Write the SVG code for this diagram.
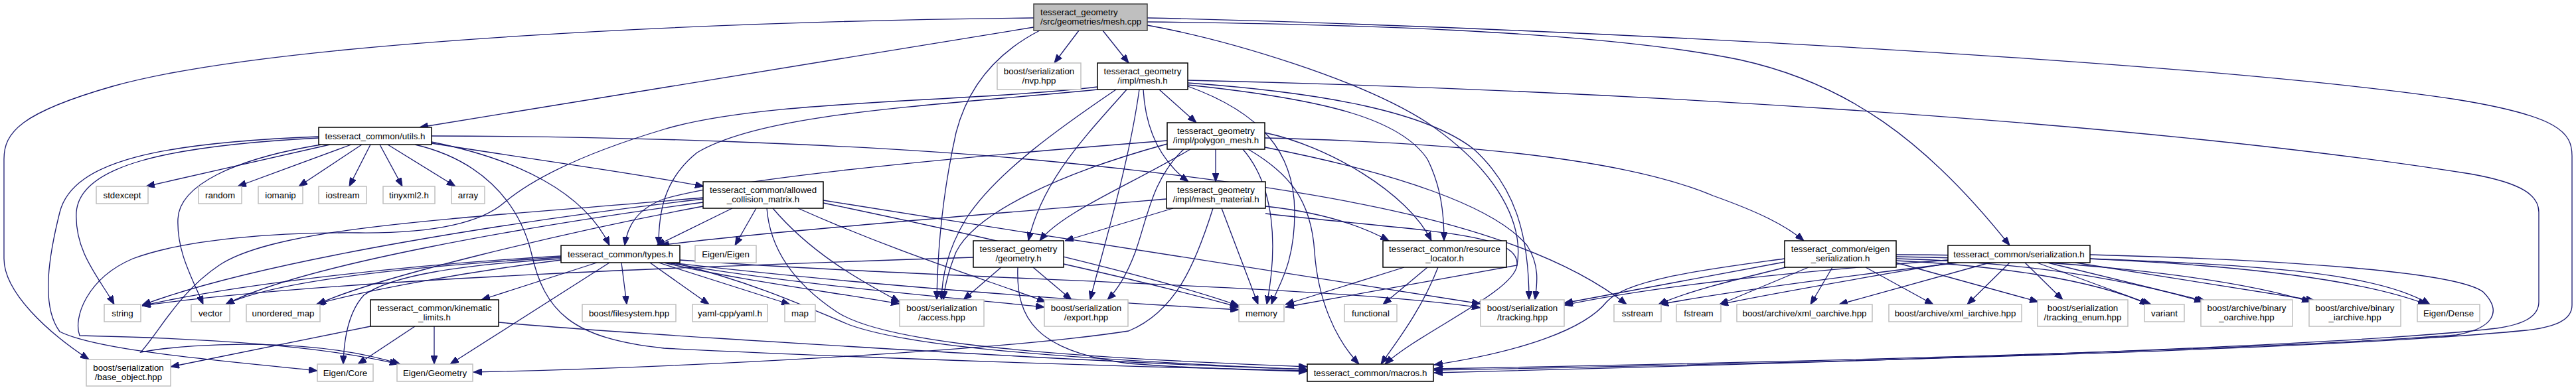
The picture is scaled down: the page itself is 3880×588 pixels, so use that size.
<svg xmlns="http://www.w3.org/2000/svg" width="3880" height="588" viewBox="0 0 3880 588">
<style>
text{font-family:"Liberation Sans",Arial,Helvetica,sans-serif;font-size:13.3px;fill:#000;text-anchor:middle}
.d rect{fill:#fff;stroke:#000;stroke-width:1.5}
.x rect{fill:#fff;stroke:#bfbfbf;stroke-width:1.5}
.r rect{fill:#bfbfbf;stroke:#404040;stroke-width:1.5}
.r text{text-anchor:start}
#edges path{fill:none;stroke:#191970;stroke-width:1.3;marker-end:url(#a)}
</style>
<defs>
<marker id="a" markerWidth="13" markerHeight="10" refX="13" refY="5" orient="auto" markerUnits="userSpaceOnUse"><path d="M0,0 L13,5 L0,10 z" fill="#191970" stroke="#191970" stroke-width="1"/></marker>
</defs>
<rect width="3880" height="588" fill="#fff"/>
<g id="edges">
<path d="M1557,41 L632,192"/>
<path d="M1557,27 C1100,32 420,60 170,130 C30,170 6,200 6,240 L6,390 C6,440 70,500 134,542"/>
<path d="M1625,46 L1588,95"/>
<path d="M1661,46 L1700,95"/>
<path d="M1566,46 C1500,80 1458,130 1440,200 C1420,290 1412,380 1411,452"/>
<path d="M1728,33 C2000,36 2400,45 2620,90 C2780,125 2900,210 3027,370"/>
<path d="M1728,27 C2300,40 3300,90 3700,150 C3855,175 3874,200 3874,235 L3874,460 C3874,482 3850,493 3805,498 C3500,528 2700,548 2160,558"/>
<path d="M1728,38 C1850,60 2050,120 2150,185 C2260,260 2295,340 2285,400 L1936,463"/>
<path d="M1746,135 L1802,185"/>
<path d="M1722,135 C1725,190 1745,240 1790,274"/>
<path d="M1697,135 C1640,200 1570,270 1549,363"/>
<path d="M1681,135 C1600,190 1500,260 1455,330 C1425,380 1419,420 1418,452"/>
<path d="M1716,135 C1700,250 1660,380 1642,452"/>
<path d="M1789,130 C1900,170 1950,230 1950,320 C1950,400 1925,430 1915,459"/>
<path d="M1789,121 C2400,135 3200,180 3720,262 C3800,276 3824,295 3824,320 L3824,455 C3824,480 3795,490 3760,495 C3500,525 2700,548 2160,562"/>
<path d="M1789,125 C2000,140 2150,170 2220,225 C2280,280 2303,350 2303,452"/>
<path d="M1789,128 C2000,150 2110,180 2150,240 C2170,280 2175,320 2175,363"/>
<path d="M1653,135 C1400,160 1150,170 1050,230 C1000,270 992,320 992,370"/>
<path d="M1653,131 C1450,155 1150,150 1000,195 C850,240 790,280 760,305 C720,340 640,352 540,351 C420,350 280,360 200,390 C130,420 110,480 120,506 C300,510 480,520 600,549"/>
<path d="M1831,225 L1831,274"/>
<path d="M1793,225 C1700,280 1600,320 1566,363"/>
<path d="M1758,217 C1600,260 1470,320 1440,380 C1428,410 1423,430 1421,452"/>
<path d="M1783,225 C1735,270 1728,330 1710,380 C1695,420 1680,440 1668,452"/>
<path d="M1872,225 C1920,280 1925,370 1908,459"/>
<path d="M1880,225 C1940,260 1975,300 1980,380 C1985,450 2010,510 2047,549"/>
<path d="M1905,208 C2200,215 2450,240 2580,295 C2650,320 2690,340 2717,363"/>
<path d="M1905,200 C2000,220 2120,290 2156,363"/>
<path d="M1905,222 C2100,260 2250,310 2300,370 C2320,400 2315,430 2312,452"/>
<path d="M1758,212 C1400,240 1100,270 1000,300 C960,315 945,340 941,370"/>
<path d="M1767,314 L1604,363"/>
<path d="M1840,314 L1895,459"/>
<path d="M1906,311 C1990,320 2050,340 2092,363"/>
<path d="M1906,322 C2150,350 2290,350 2285,400 C2280,440 2140,500 2086,549"/>
<path d="M1757,300 C1400,330 1100,355 995,370"/>
<path d="M1827,314 C1800,400 1770,470 1700,499 C1500,530 1000,555 713,561"/>
<path d="M1508,403 L1451,452"/>
<path d="M1556,403 L1614,452"/>
<path d="M1602,398 C1700,420 1800,445 1866,463"/>
<path d="M1533,403 C1530,480 1560,530 1700,548 C1800,556 1900,558 1969,560"/>
<path d="M1466,388 C1100,400 500,420 214,461"/>
<path d="M1103,314 L989,370"/>
<path d="M1139,314 L1107,370"/>
<path d="M1164,314 C1220,380 1290,420 1355,455"/>
<path d="M1202,314 C1350,380 1480,420 1575,455"/>
<path d="M1240,306 C1500,360 1750,420 1866,461"/>
<path d="M1240,302 C1600,360 2000,420 2230,458"/>
<path d="M1155,314 C1160,380 1200,430 1260,470 C1320,510 1500,535 1969,553"/>
<path d="M1059,300 C800,330 400,390 214,460"/>
<path d="M1059,305 C800,340 450,400 340,459"/>
<path d="M1059,311 C850,350 560,420 478,459"/>
<path d="M1059,298 C700,330 420,340 330,400 C270,440 240,500 212,531 C300,515 480,510 603,549"/>
<path d="M845,386 C600,400 350,430 214,461"/>
<path d="M845,388 C650,400 420,420 340,459"/>
<path d="M845,392 C700,410 540,440 476,459"/>
<path d="M899,396 L725,452"/>
<path d="M918,396 L678,549"/>
<path d="M845,390 C690,400 590,415 548,445 C525,470 518,510 517,549"/>
<path d="M936,396 L944,459"/>
<path d="M979,396 L1068,459"/>
<path d="M992,396 L1190,459"/>
<path d="M1000,396 C1100,420 1250,440 1355,458"/>
<path d="M1005,396 C1200,430 1450,450 1573,463"/>
<path d="M1010,396 C1300,430 1650,455 1866,467"/>
<path d="M1024,392 C1400,420 2000,430 2230,464"/>
<path d="M1015,396 C1150,430 1230,470 1280,490 C1350,515 1500,537 1969,557"/>
<path d="M497,218 L220,281"/>
<path d="M529,218 L358,281"/>
<path d="M545,218 L450,281"/>
<path d="M558,218 L526,281"/>
<path d="M572,218 L606,281"/>
<path d="M584,218 L686,281"/>
<path d="M480,208 C250,220 120,250 115,320 C112,380 150,420 172,459"/>
<path d="M484,218 C350,240 270,280 268,330 C266,380 290,420 306,459"/>
<path d="M480,206 C250,215 110,240 90,320 C75,380 60,460 90,500 C150,530 350,545 478,559"/>
<path d="M650,214 C780,240 880,290 918,370"/>
<path d="M650,216 C800,240 950,260 1060,281"/>
<path d="M650,205 C900,205 1300,215 1600,245 C2000,285 2300,340 2450,459"/>
<path d="M625,218 C720,240 780,300 800,380 C820,470 860,510 1000,525 C1300,540 1700,553 1969,559"/>
<path d="M558,492 L257,553"/>
<path d="M625,492 L539,549"/>
<path d="M654,492 L654,549"/>
<path d="M751,486 C900,500 1600,545 1969,557"/>
<path d="M2115,403 L1936,459"/>
<path d="M2150,403 L2083,459"/>
<path d="M2166,403 C2140,470 2100,520 2080,549"/>
<path d="M2688,390 C2580,405 2450,420 2420,455 C2380,505 2260,535 2160,550"/>
<path d="M2688,395 C2550,420 2450,440 2356,457"/>
<path d="M2690,403 C2600,425 2540,440 2498,459"/>
<path d="M2724,403 L2590,459"/>
<path d="M2760,403 L2727,459"/>
<path d="M2810,403 L2912,459"/>
<path d="M2856,396 L3070,455"/>
<path d="M2856,393 C3000,400 3150,420 3236,459"/>
<path d="M2856,390 C3050,395 3200,420 3318,455"/>
<path d="M2856,387 C3100,390 3350,415 3480,455"/>
<path d="M2856,384 C3150,385 3500,400 3655,459"/>
<path d="M3027,396 L2963,459"/>
<path d="M2997,396 L2770,459"/>
<path d="M3050,396 L3107,452"/>
<path d="M3068,396 L3240,459"/>
<path d="M3084,396 L3322,454"/>
<path d="M3126,396 L3486,453"/>
<path d="M3148,390 C3400,400 3580,410 3660,459"/>
<path d="M2950,396 C2750,420 2600,440 2500,459"/>
<path d="M2940,396 C2800,420 2680,440 2590,459"/>
<path d="M2934,392 C2700,410 2500,430 2356,460"/>
<path d="M3148,384 C3450,392 3700,410 3740,440 C3770,470 3755,495 3700,505 C3400,528 2700,546 2160,556"/>
</g>
<g id="n0" class="r"><rect x="1557" y="6" width="171" height="40"/><text x="1567" y="22.5">tesseract_geometry</text><text x="1567" y="37">/src/geometries/mesh.cpp</text></g>
<g id="n1" class="x"><rect x="1502" y="95" width="126" height="40"/><text x="1565" y="111.5">boost/serialization</text><text x="1565" y="126">/nvp.hpp</text></g>
<g id="n2" class="d"><rect x="1653" y="95" width="136" height="40"/><text x="1721" y="111.5">tesseract_geometry</text><text x="1721" y="126">/impl/mesh.h</text></g>
<g id="n3" class="d"><rect x="480" y="192" width="170" height="26"/><text x="565" y="209.5">tesseract_common/utils.h</text></g>
<g id="n4" class="d"><rect x="1758" y="185" width="147" height="40"/><text x="1831.5" y="201.5">tesseract_geometry</text><text x="1831.5" y="216">/impl/polygon_mesh.h</text></g>
<g id="n5" class="d"><rect x="1059" y="274" width="181" height="40"/><text x="1149.5" y="290.5">tesseract_common/allowed</text><text x="1149.5" y="305">_collision_matrix.h</text></g>
<g id="n6" class="d"><rect x="1757" y="274" width="149" height="40"/><text x="1831.5" y="290.5">tesseract_geometry</text><text x="1831.5" y="305">/impl/mesh_material.h</text></g>
<g id="n7" class="x"><rect x="145" y="281" width="78" height="26"/><text x="184" y="298.5">stdexcept</text></g>
<g id="n8" class="x"><rect x="299" y="281" width="65" height="26"/><text x="331.5" y="298.5">random</text></g>
<g id="n9" class="x"><rect x="389" y="281" width="67" height="26"/><text x="422.5" y="298.5">iomanip</text></g>
<g id="n10" class="x"><rect x="480" y="281" width="72" height="26"/><text x="516" y="298.5">iostream</text></g>
<g id="n11" class="x"><rect x="577" y="281" width="78" height="26"/><text x="616" y="298.5">tinyxml2.h</text></g>
<g id="n12" class="x"><rect x="680" y="281" width="50" height="26"/><text x="705" y="298.5">array</text></g>
<g id="n13" class="d"><rect x="845" y="370" width="179" height="26"/><text x="934.5" y="387.5">tesseract_common/types.h</text></g>
<g id="n14" class="x"><rect x="1047" y="370" width="92" height="26"/><text x="1093" y="387.5">Eigen/Eigen</text></g>
<g id="n15" class="d"><rect x="1466" y="363" width="136" height="40"/><text x="1534" y="379.5">tesseract_geometry</text><text x="1534" y="394">/geometry.h</text></g>
<g id="n16" class="d"><rect x="2083" y="363" width="186" height="40"/><text x="2176" y="379.5">tesseract_common/resource</text><text x="2176" y="394">_locator.h</text></g>
<g id="n17" class="d"><rect x="2688" y="363" width="168" height="40"/><text x="2772" y="379.5">tesseract_common/eigen</text><text x="2772" y="394">_serialization.h</text></g>
<g id="n18" class="d"><rect x="2934" y="370" width="214" height="26"/><text x="3041" y="387.5">tesseract_common/serialization.h</text></g>
<g id="n19" class="x"><rect x="157" y="459" width="55" height="26"/><text x="184.5" y="476.5">string</text></g>
<g id="n20" class="x"><rect x="288" y="459" width="58" height="26"/><text x="317" y="476.5">vector</text></g>
<g id="n21" class="x"><rect x="371" y="459" width="111" height="26"/><text x="426.5" y="476.5">unordered_map</text></g>
<g id="n22" class="d"><rect x="558" y="452" width="193" height="40"/><text x="654.5" y="468.5">tesseract_common/kinematic</text><text x="654.5" y="483">_limits.h</text></g>
<g id="n23" class="x"><rect x="877" y="459" width="141" height="26"/><text x="947.5" y="476.5">boost/filesystem.hpp</text></g>
<g id="n24" class="x"><rect x="1043" y="459" width="113" height="26"/><text x="1099.5" y="476.5">yaml-cpp/yaml.h</text></g>
<g id="n25" class="x"><rect x="1182" y="459" width="46" height="26"/><text x="1205" y="476.5">map</text></g>
<g id="n26" class="x"><rect x="1355" y="452" width="127" height="40"/><text x="1418.5" y="468.5">boost/serialization</text><text x="1418.5" y="483">/access.hpp</text></g>
<g id="n27" class="x"><rect x="1573" y="452" width="126" height="40"/><text x="1636" y="468.5">boost/serialization</text><text x="1636" y="483">/export.hpp</text></g>
<g id="n28" class="x"><rect x="1866" y="459" width="68" height="26"/><text x="1900" y="476.5">memory</text></g>
<g id="n29" class="x"><rect x="2025" y="459" width="79" height="26"/><text x="2064.5" y="476.5">functional</text></g>
<g id="n30" class="x"><rect x="2230" y="452" width="126" height="40"/><text x="2293" y="468.5">boost/serialization</text><text x="2293" y="483">/tracking.hpp</text></g>
<g id="n31" class="x"><rect x="2431" y="459" width="71" height="26"/><text x="2466.5" y="476.5">sstream</text></g>
<g id="n32" class="x"><rect x="2525" y="459" width="67" height="26"/><text x="2558.5" y="476.5">fstream</text></g>
<g id="n33" class="x"><rect x="2616" y="459" width="204" height="26"/><text x="2718" y="476.5">boost/archive/xml_oarchive.hpp</text></g>
<g id="n34" class="x"><rect x="2845" y="459" width="200" height="26"/><text x="2945" y="476.5">boost/archive/xml_iarchive.hpp</text></g>
<g id="n35" class="x"><rect x="3069" y="452" width="136" height="40"/><text x="3137" y="468.5">boost/serialization</text><text x="3137" y="483">/tracking_enum.hpp</text></g>
<g id="n36" class="x"><rect x="3230" y="459" width="60" height="26"/><text x="3260" y="476.5">variant</text></g>
<g id="n37" class="x"><rect x="3315" y="452" width="138" height="40"/><text x="3384" y="468.5">boost/archive/binary</text><text x="3384" y="483">_oarchive.hpp</text></g>
<g id="n38" class="x"><rect x="3478" y="452" width="138" height="40"/><text x="3547" y="468.5">boost/archive/binary</text><text x="3547" y="483">_iarchive.hpp</text></g>
<g id="n39" class="x"><rect x="3641" y="459" width="94" height="26"/><text x="3688" y="476.5">Eigen/Dense</text></g>
<g id="n40" class="x"><rect x="130" y="542" width="127" height="40"/><text x="193.5" y="558.5">boost/serialization</text><text x="193.5" y="573">/base_object.hpp</text></g>
<g id="n41" class="x"><rect x="478" y="549" width="84" height="26"/><text x="520" y="566.5">Eigen/Core</text></g>
<g id="n42" class="x"><rect x="598" y="549" width="114" height="26"/><text x="655" y="566.5">Eigen/Geometry</text></g>
<g id="n43" class="d"><rect x="1969" y="549" width="190" height="26"/><text x="2064" y="566.5">tesseract_common/macros.h</text></g>
</svg>
